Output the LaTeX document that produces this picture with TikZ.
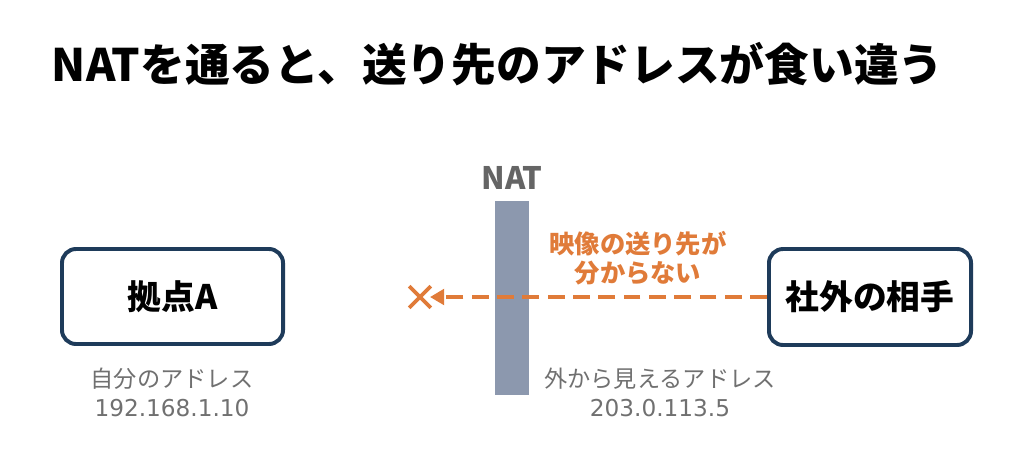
\documentclass[tikz,border=0pt]{standalone}
\usepackage{fontspec}
\setmainfont{Noto Sans CJK JP}
\newfontfamily\numfont{DejaVu Sans}
\usetikzlibrary{shapes.misc,arrows.meta}
\definecolor{navy}{HTML}{1E3B5A}
\definecolor{natbar}{HTML}{8C98AE}
\definecolor{warn}{HTML}{E07B39}
\definecolor{note}{HTML}{707070}
\tikzset{
  site/.style = {draw=navy, line width=2.8pt, rounded corners=10pt, fill=white,
                 font=\bfseries\fontsize{24}{28}\selectfont},
  addr/.style = {text=note, align=center, font=\fontsize{16.5}{20.5}\selectfont}
}
\begin{document}
\begin{tikzpicture}[x=0.025cm, y=-0.025cm]
\useasboundingbox (0,0) rectangle (1024,456);
\node[anchor=west, font=\bfseries\fontsize{31.8}{36}\selectfont] (title) at (47,64) {NATを通ると、送り先のアドレスが食い違う};

\fill[natbar] (495,201) rectangle (529,395);
\node[text=note!90!black, font=\bfseries\fontsize{22}{26}\selectfont] (nat) at (512,178) {NAT};

\node[site, minimum width=5.525cm, minimum height=2.375cm] (siteA) at (172.5,296.5) {拠点A};
\node[site, minimum width=5.05cm, minimum height=2.4cm] (peer) at (870,297) {社外の相手};

\node[cross out, draw=warn, line width=2.6pt, minimum size=0.45cm, inner sep=0pt] (lost) at (420,297) {};
\draw[warn, line width=2.8pt, dash pattern=on 12pt off 6pt, -{Triangle[length=10pt,width=11pt]}] (peer.west) -- ([xshift=0.25cm]lost.center);
\node[text=warn, align=center, font=\bfseries\fontsize{18}{20.5}\selectfont] (why) at (638,258) {映像の送り先が\\分からない};

\node[addr] (ownaddr) at (172,392) {自分のアドレス\\{\numfont 192.168.1.10}};
\node[addr] (outaddr) at (660,392) {外から見えるアドレス\\{\numfont 203.0.113.5}};
\end{tikzpicture}
\end{document}
